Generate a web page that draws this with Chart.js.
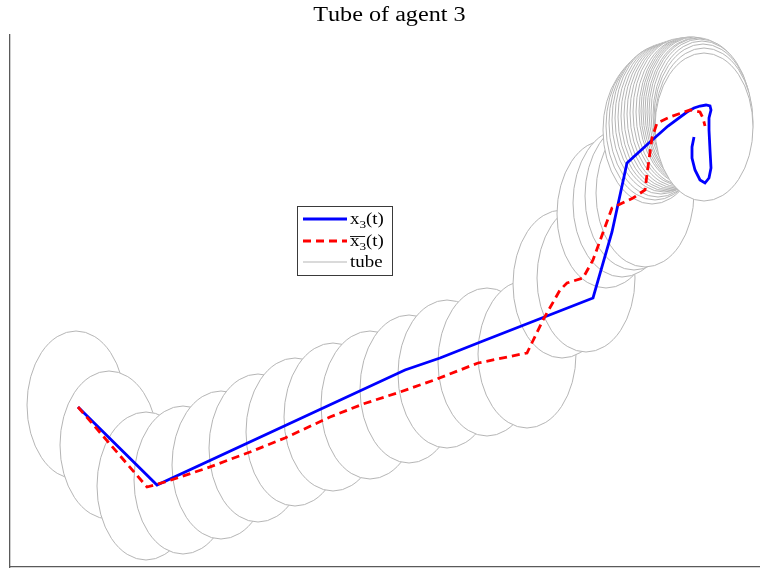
<!DOCTYPE html>
<html><head><meta charset="utf-8">
<script src="https://cdn.jsdelivr.net/npm/chart.js@4/dist/chart.umd.min.js"></script>
<style>html,body{margin:0;padding:0;background:#fff}canvas{display:block}</style>
</head><body>
<canvas id="c" width="760" height="570"></canvas>
<script>
// ---- data ----
const titleText = 'Tube of agent 3';
const seriesLabels = ['x\u2083(t)', 'x\u0304\u2083(t)', 'tube'];

const actualX = [6.8,14.7,39.5,43.0,47.3,58.3,60.2,61.7,64.0,65.8,67.7,68.4,69.0,69.6,70.0,70.1,69.9,69.9,70.0,70.1,69.9,69.5,69.0,68.5,68.2,68.2,68.4];
const actualY = [16.0,8.2,19.7,20.9,22.6,26.9,33.5,40.4,42.5,44.1,45.5,45.9,46.1,46.2,46.1,45.7,44.9,43.7,41.7,39.9,38.9,38.4,38.7,39.7,40.9,42.0,43.0];

const nominalX = [6.8,13.7,15.5,19.7,24.0,27.5,32.0,35.3,39.0,42.7,46.8,51.7,53.3,55.0,55.7,57.3,58.3,59.5,60.2,62.3,63.5,63.8,64.2,64.7,66.0,68.0,69.0,69.3,69.5];
const nominalY = [16.0,8.0,8.5,9.9,11.5,12.9,15.0,16.3,17.5,18.8,20.4,21.4,24.7,27.7,28.4,28.9,30.7,34.0,35.9,36.9,37.7,40.0,42.9,44.4,45.0,45.7,45.5,44.9,44.1];

const tubeX = [6.6,9.9,13.6,17.3,21.1,24.8,28.5,32.3,36.0,39.9,43.7,47.7,51.7,55.2,57.6,59.6,61.2,62.4,63.5,64.2,64.5,64.8,65.1,65.4,65.7,66.0,66.3,66.6,66.9,67.2,67.5,67.8,68.0,68.2,68.4,68.6,68.8,69.0,69.2,69.3,69.4,69.4];
const tubeY = [16.2,12.2,8.1,8.7,10.2,11.9,13.5,15.0,16.2,17.8,19.3,20.5,21.3,28.3,28.9,35.3,36.4,37.1,37.4,43.7,44.1,44.4,44.7,44.9,45.0,45.1,45.2,45.3,45.4,45.5,45.5,45.6,45.6,45.6,45.6,45.5,45.5,45.4,45.2,44.9,44.5,44.0];
const tubeHalfWidth = 4.9;
const tubeHalfHeight = 7.4;

const xRange = [0, 75];
const yRange = [0, 53.2];

// ---- helpers ----
const zip = (xs, ys) => xs.map((v, i) => ({x: v, y: ys[i]}));
const SERIF = '"Liberation Serif", "Times New Roman", serif';

function drawMath(ctx, label, x, baseline, size, sx) {
  ctx.save();
  ctx.translate(x, baseline);
  ctx.scale(sx, 1);
  ctx.textBaseline = 'alphabetic';
  ctx.textAlign = 'left';
  ctx.fillStyle = '#000';
  let cx = 0;
  const chars = Array.from(label);
  for (let i = 0; i < chars.length; i++) {
    const ch = chars[i];
    if (ch === '\u0304') continue;
    const over = chars[i + 1] === '\u0304';
    if (ch === '\u2083') {
      ctx.font = (size * 0.7) + 'px ' + SERIF;
      ctx.fillText('3', cx, size * 0.22);
      cx += ctx.measureText('3').width;
    } else {
      ctx.font = size + 'px ' + SERIF;
      ctx.fillText(ch, cx, 0);
      const w = ctx.measureText(ch).width;
      if (over) {
        ctx.fillRect(cx, -size * 0.62, w + size * 0.3, size * 0.055);
      }
      cx += w;
    }
  }
  ctx.restore();
}

const tubePlugin = {
  id: 'tubeEllipses',
  beforeDatasetsDraw(chart) {
    const {ctx, chartArea, scales} = chart;
    const xs = scales.x, ys = scales.y;
    const ds = chart.data.datasets[2];
    ctx.save();
    ctx.beginPath();
    ctx.rect(chartArea.left, chartArea.top, chartArea.right - chartArea.left, chartArea.bottom - chartArea.top);
    ctx.clip();
    ds.data.forEach(p => {
      const cx = xs.getPixelForValue(p.x), cy = ys.getPixelForValue(p.y);
      const rx = Math.abs(xs.getPixelForValue(p.x + tubeHalfWidth) - cx);
      const ry = Math.abs(ys.getPixelForValue(p.y + tubeHalfHeight) - cy);
      ctx.beginPath();
      ctx.ellipse(cx, cy, rx, ry, 0, 0, Math.PI * 2);
      ctx.fillStyle = '#ffffff';
      ctx.fill();
      ctx.lineWidth = ds.borderWidth;
      ctx.strokeStyle = ds.borderColor;
      ctx.stroke();
    });
    ctx.restore();
  }
};

const textPlugin = {
  id: 'mathText',
  afterDraw(chart, args, o) {
    const ctx = chart.ctx;
    // title
    ctx.save();
    ctx.font = o.titleSize + 'px ' + SERIF;
    const tw = ctx.measureText(titleText).width * o.sx;
    ctx.restore();
    drawMath(ctx, titleText, o.titleX - tw / 2, o.titleBaseline, o.titleSize, o.sx);
    // legend box
    ctx.save();
    ctx.fillStyle = '#fff';
    ctx.fillRect(o.left, o.top, o.width, o.height);
    ctx.strokeStyle = '#3a3a3a';
    ctx.lineWidth = 1;
    ctx.strokeRect(o.left + 0.5, o.top + 0.5, o.width, o.height);
    chart.data.datasets.forEach((ds, i) => {
      const yy = o.top + o.rows[i];
      ctx.beginPath();
      ctx.setLineDash(ds.borderDash || []);
      ctx.strokeStyle = ds.borderColor;
      ctx.lineWidth = ds.borderWidth;
      ctx.moveTo(o.left + o.lineStart, yy);
      ctx.lineTo(o.left + o.lineEnd, yy);
      ctx.stroke();
      ctx.setLineDash([]);
      drawMath(ctx, ds.label, o.left + o.textStart, yy + o.textDrop, o.fontSize, o.sx);
    });
    ctx.restore();
  }
};

new Chart(document.getElementById('c'), {
  type: 'scatter',
  data: {
    datasets: [
      { label: seriesLabels[0], data: zip(actualX, actualY), showLine: true, borderColor: '#0000ff',
        borderWidth: 2.8, pointRadius: 0, tension: 0, order: 1 },
      { label: seriesLabels[1], data: zip(nominalX, nominalY), showLine: true, borderColor: '#ff0000',
        borderWidth: 2.8, borderDash: [8, 5], pointRadius: 0, tension: 0, order: 0 },
      { label: seriesLabels[2], data: zip(tubeX, tubeY), showLine: false, borderColor: '#b5b5b5',
        borderWidth: 1, pointRadius: 0, order: 2 }
    ]
  },
  options: {
    responsive: false,
    animation: false,
    devicePixelRatio: 1,
    layout: { autoPadding: false, padding: { left: 10, top: 35, right: 0, bottom: 3 } },
    scales: {
      x: { type: 'linear', min: xRange[0], max: xRange[1],
           grid: { display: false, drawTicks: false }, ticks: { display: false },
           border: { display: true, color: '#5a5a5a', width: 1.3 } },
      y: { type: 'linear', min: yRange[0], max: yRange[1],
           grid: { display: false, drawTicks: false }, ticks: { display: false },
           border: { display: true, color: '#5a5a5a', width: 1.3 } }
    },
    plugins: {
      legend: { display: false },
      title: { display: false },
      tooltip: { enabled: false },
      mathText: { sx: 1.18, titleSize: 20.5, titleX: 389, titleBaseline: 21,
                  left: 297, top: 206, width: 95, height: 69,
                  rows: [13, 35, 56], lineStart: 6, lineEnd: 50, textStart: 53, textDrop: 5, fontSize: 16 }
    }
  },
  plugins: [tubePlugin, textPlugin]
});
</script>
</body></html>
